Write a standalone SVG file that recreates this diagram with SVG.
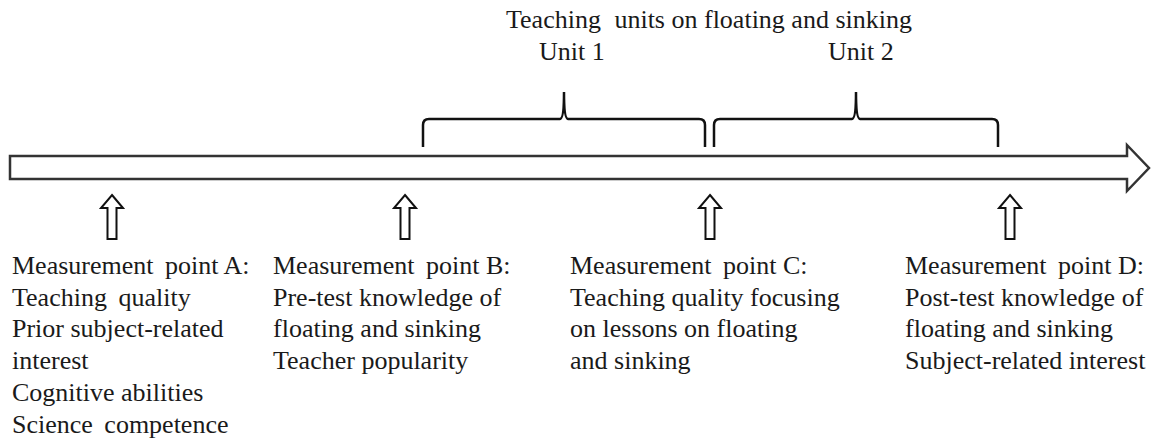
<svg xmlns="http://www.w3.org/2000/svg" width="1162" height="441" viewBox="0 0 1162 441">
<style>
.t{font-family:'Liberation Serif','Times New Roman',serif;font-size:26px;fill:#1a1a1a}
.up{fill:#fff;stroke:#111;stroke-width:2;stroke-linejoin:miter}
.brace{fill:none;stroke:#111;stroke-width:2.5}
</style>
<rect width="1162" height="441" fill="#fff"/>
<g id="timeline">
<path d="M10,156 H1127 V145 L1149,168 L1127,191 V179 H10 Z" fill="#fff" stroke="#333" stroke-width="2.5"/>
</g>
<g class="t">
<g id="units">
<text x="506" y="28">Teaching<tspan dx="7"> units on floating and sinking</tspan></text>
<g id="unit1">
<path class="brace" d="M423,147 V125 Q423,119 429,119 H560 Q564,119 564,92 Q564,119 568,119 H699 Q705,119 705,125 V147"/>
<text x="539" y="60">Unit 1</text>
</g>
<g id="unit2">
<path class="brace" d="M714,147 V125 Q714,119 720,119 H852 Q856,119 856,92 Q856,119 860,119 H992 Q998,119 998,125 V147"/>
<text x="828" y="60">Unit 2</text>
</g>
</g>
<g id="pointA">
<text x="12" y="274">Measurement<tspan dx="5"> point A:</tspan></text>
<text x="12" y="306">Teaching<tspan dx="5"> quality</tspan></text>
<text x="12" y="337">Prior subject-related</text>
<text x="12" y="369">interest</text>
<text x="12" y="401">Cognitive abilities</text>
<text x="12" y="433">Science<tspan dx="5"> competence</tspan></text>
</g>
<g id="pointB">
<text x="273" y="274">Measurement<tspan dx="5"> point B:</tspan></text>
<text x="273" y="306">Pre-test knowledge of</text>
<text x="273" y="337">floating and sinking</text>
<text x="273" y="369">Teacher popularity</text>
</g>
<g id="pointC">
<text x="570" y="274">Measurement<tspan dx="5"> point C:</tspan></text>
<text x="570" y="306">Teaching quality focusing</text>
<text x="570" y="337">on lessons on floating</text>
<text x="570" y="369">and sinking</text>
</g>
<g id="pointD">
<text x="905" y="274">Measurement<tspan dx="5"> point D:</tspan></text>
<text x="905" y="306">Post-test knowledge of</text>
<text x="905" y="337">floating and sinking</text>
<text x="905" y="369">Subject-related interest</text>
</g>
</g>
<g id="connectors">
<path class="up" d="M112,195 L123,208 H116.5 V239 H107.5 V208 H101 Z"/>
<path class="up" d="M405,195 L416,208 H409.5 V239 H400.5 V208 H394 Z"/>
<path class="up" d="M710,195 L721,208 H714.5 V239 H705.5 V208 H699 Z"/>
<path class="up" d="M1010,195 L1021,208 H1014.5 V239 H1005.5 V208 H999 Z"/>
</g>
</svg>
